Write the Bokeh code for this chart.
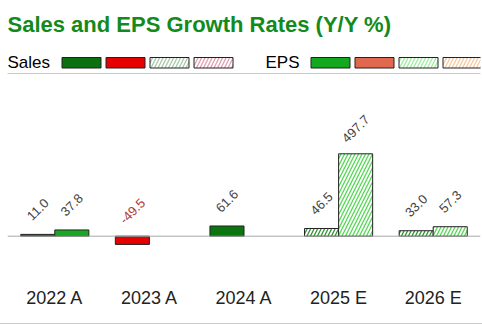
from bokeh.plotting import figure
from bokeh.models import (ColumnDataSource, FactorRange, Range1d, Span, FixedTicker)
from bokeh.layouts import column
from bokeh.transform import dodge
from bokeh.core.properties import value
from bokeh.embed import file_html
from bokeh.resources import INLINE

# ---- data ----
years = ["2022 A", "2023 A", "2024 A", "2025 E", "2026 E"]
is_estimate = [False, False, False, True, True]
sales_growth = [11.0, -49.5, 61.6, 46.5, 33.0]
eps_growth = [37.8, None, None, 497.7, 57.3]
title_text = "Sales and EPS Growth Rates (Y/Y %)"
legend_names = ["Sales", "EPS"]

FONT = "Liberation Sans"

# ---------- header (title + legend row + separator); header units = pixels ----------
HEAD_W, HEAD_H = 473, 33
h = figure(width=482, height=74, x_range=Range1d(0, HEAD_W), y_range=Range1d(0, HEAD_H),
           min_border_left=7, min_border_right=2, min_border_top=40, min_border_bottom=1,
           toolbar_location=None, output_backend="svg")
h.yaxis.visible = False
h.grid.visible = False
h.outline_line_color = None
hx = h.xaxis[0]
hx.ticker = FixedTicker(ticks=[])
hx.axis_line_color = "#cccccc"
hx.major_tick_line_color = None
hx.minor_tick_line_color = None
hx.major_tick_out = 0
hx.major_label_standoff = 0
h.title.text = title_text
h.title.text_font = FONT
h.title.text_font_size = "22px"
h.title.text_font_style = "bold"
h.title.text_color = "#138a1c"
h.title.align = "left"
h.title.offset = 0
h.title.standoff = 8

# ---------- main chart ----------
p = figure(width=482, height=250, x_range=FactorRange(*years),
           y_range=Range1d(-267.6, 976.7),
           min_border_left=7, min_border_right=2, min_border_top=0, min_border_bottom=44,
           toolbar_location=None, output_backend="svg")
p.styles = {"border-bottom": "1px solid #cccccc"}
p.yaxis.visible = False
p.xgrid.visible = False
p.ygrid.visible = False
p.outline_line_color = None
p.background_fill_color = "white"

xa = p.xaxis[0]
xa.axis_line_color = None
xa.major_tick_line_color = None
xa.minor_tick_line_color = None
xa.major_label_text_font = FONT
xa.major_label_text_font_size = "18px"
xa.major_label_text_color = "#222222"
xa.major_label_standoff = 1

p.add_layout(Span(location=0, dimension="width", line_color="#a8a8a8", line_width=1))

HS, HW = 7, 1.3
KEYS = ("act_pos", "act_neg", "est_pos", "est_neg")
styles = {
    "sales": {
        "act_pos": dict(fill_color="#0b760f"),
        "act_neg": dict(fill_color="#e60000"),
        "est_pos": dict(fill_color="white", hatch_pattern="/", hatch_color="#2f962f", hatch_scale=HS, hatch_weight=HW),
        "est_neg": dict(fill_color="white", hatch_pattern="/", hatch_color="#d07080", hatch_scale=HS, hatch_weight=HW),
    },
    "eps": {
        "act_pos": dict(fill_color="#1aa823"),
        "act_neg": dict(fill_color="#e0684e"),
        "est_pos": dict(fill_color="white", hatch_pattern="/", hatch_color="#55d855", hatch_scale=HS, hatch_weight=HW),
        "est_neg": dict(fill_color="white", hatch_pattern="/", hatch_color="#f0b080", hatch_scale=HS, hatch_weight=HW),
    },
}
legend_styles = {
    "sales": {
        "act_pos": dict(fill_color="#0b700f"),
        "act_neg": dict(fill_color="#e60000"),
        "est_pos": dict(fill_color="white", hatch_pattern="/", hatch_color="#a8c8a8", hatch_scale=HS, hatch_weight=HW),
        "est_neg": dict(fill_color="white", hatch_pattern="/", hatch_color="#e0a0b0", hatch_scale=HS, hatch_weight=HW),
    },
    "eps": {
        "act_pos": dict(fill_color="#14a81e"),
        "act_neg": dict(fill_color="#e0684e"),
        "est_pos": dict(fill_color="white", hatch_pattern="/", hatch_color="#a0eca0", hatch_scale=HS, hatch_weight=HW),
        "est_neg": dict(fill_color="white", hatch_pattern="/", hatch_color="#f6c8a0", hatch_scale=HS, hatch_weight=HW),
    },
}

series = {"sales": (sales_growth, -0.18), "eps": (eps_growth, 0.18)}
BAR_W = 0.36

for name, (vals, off) in series.items():
    groups = {k: {"x": [], "top": []} for k in KEYS}
    lab = {"x": [], "y": [], "text": [], "color": []}
    for yr, est, v in zip(years, is_estimate, vals):
        if v is None:
            continue
        key = ("est" if est else "act") + ("_neg" if v < 0 else "_pos")
        groups[key]["x"].append(yr)
        groups[key]["top"].append(v)
        lab["x"].append(yr)
        lab["y"].append(max(v, 0))
        lab["text"].append(f"{v:.1f}")
        lab["color"].append("#b03a3a" if v < 0 else "#444444")
    for key, g in groups.items():
        if g["x"]:
            p.vbar(x=dodge("x", off, range=p.x_range), top="top", bottom=0, width=BAR_W,
                   source=ColumnDataSource(g), line_color="#222222", line_width=1,
                   **styles[name][key])
    p.text(x=dodge("x", off, range=p.x_range), y="y", text="text", source=ColumnDataSource(lab),
           text_color="color", text_font=value(FONT), text_font_size="13px",
           angle=45, angle_units="deg", text_align="center", text_baseline="middle",
           y_offset=-25)

# ---------- legend row (header pixel units) ----------
BOX_W, BOX_GAP, BOX_B, BOX_T = 39, 5, 5.5, 16
def legend_row(name, title, text_x, box_x):
    h.text(x=[text_x], y=[11], text=[title], text_font=value(FONT), text_font_size="17px",
           text_color="#000000", text_baseline="middle", text_align="left")
    for i, key in enumerate(KEYS):
        left = box_x + i * (BOX_W + BOX_GAP)
        h.quad(left=[left], right=[left + BOX_W], bottom=[BOX_B], top=[BOX_T],
               line_color="#222222", line_width=1, **legend_styles[name][key])

legend_row("sales", legend_names[0], 0, 54.5)
legend_row("eps", legend_names[1], 258, 303.5)

open("out.html", "w").write(file_html(column(h, p), INLINE))
